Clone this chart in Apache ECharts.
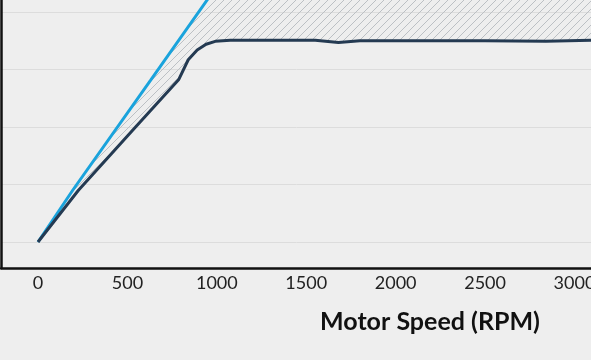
<!DOCTYPE html>
<html><head><meta charset="utf-8">
<script src="https://cdn.jsdelivr.net/npm/echarts@6/dist/echarts.min.js"></script>
<style>html,body{margin:0;padding:0;background:#eeeeee;}#c{width:591px;height:360px;}</style>
</head><body><div id="c"></div>
<script>
// Data
const limitRpm = [0, 194, 631, 946, 1200];
const limitVal = [0, 9.0, 28.2, 42.1, 53.5];
const actualRpm = [0, 226, 543, 786, 840, 890, 940, 991, 1075, 1550, 1680, 1800, 2500, 2840, 3100];
const actualVal = [0, 9.0, 19.9, 28.2, 31.7, 33.4, 34.4, 34.9, 35.1, 35.1, 34.7, 35.0, 35.0, 34.9, 35.1];
const hatchCeil = 60;
const xName = 'Motor Speed (RPM)';

const limitData = limitRpm.map((x, i) => [x, limitVal[i]]);
const actualData = actualRpm.map((x, i) => [x, actualVal[i]]);

// hatch pattern
const pc = document.createElement('canvas');
pc.width = 8; pc.height = 8;
const g = pc.getContext('2d');
g.strokeStyle = '#bcc0c4';
g.lineWidth = 1;
g.beginPath();
g.moveTo(-1, 9); g.lineTo(9, -1);
g.moveTo(-1, 1); g.lineTo(1, -1);
g.moveTo(7, 9); g.lineTo(9, 7);
g.stroke();

const chart = echarts.init(document.getElementById('c'), null, {renderer: 'canvas'});
chart.setOption({
  backgroundColor: '#eeeeee',
  animation: false,
  grid: {left: 1, right: 591 - 859, top: -45.5, bottom: 92, containLabel: false, outerBoundsMode: 'none'},
  xAxis: {
    type: 'value', min: -207, max: 4591, splitNumber: 10,
    axisLine: {show: true, onZero: false, lineStyle: {color: '#111', width: 2.5}},
    axisTick: {show: false},
    splitLine: {show: false},
    axisLabel: {showMinLabel: false, color: '#222', fontFamily: 'Lato', fontSize: 18, margin: 6,
      formatter: v => String(v)},
    name: xName, nameLocation: 'middle', nameGap: 41,
    nameTextStyle: {color: '#111', fontFamily: 'Lato', fontWeight: 'bold', fontSize: 25}
  },
  yAxis: {
    type: 'value', min: -4.52, max: 50, splitNumber: 5,
    axisLine: {show: true, onZero: false, lineStyle: {color: '#111', width: 2.5}},
    axisTick: {show: false},
    axisLabel: {show: false},
    splitLine: {show: true, lineStyle: {color: '#dcdcdc', width: 1}}
  },
  series: [
    {
      type: 'custom', z: 1, silent: true,
      data: [[0, 0]],
      renderItem: function (params, api) {
        const pts = [];
        limitData.forEach(d => pts.push(api.coord(d)));
        pts.push(api.coord([limitRpm[limitRpm.length - 1], hatchCeil]));
        pts.push(api.coord([actualRpm[actualRpm.length - 1], hatchCeil]));
        for (let i = actualData.length - 1; i >= 0; i--) pts.push(api.coord(actualData[i]));
        return {type: 'polygon', shape: {points: pts}, style: {fill: {image: pc, repeat: 'repeat'}, stroke: null}};
      }
    },
    {
      type: 'line', z: 3, data: limitData, showSymbol: false, smooth: false,
      lineStyle: {color: '#1aa3dc', width: 3}
    },
    {
      type: 'line', z: 4, data: actualData, showSymbol: false, smooth: false,
      lineStyle: {color: '#243a52', width: 3}
    }
  ]
});
</script></body></html>
